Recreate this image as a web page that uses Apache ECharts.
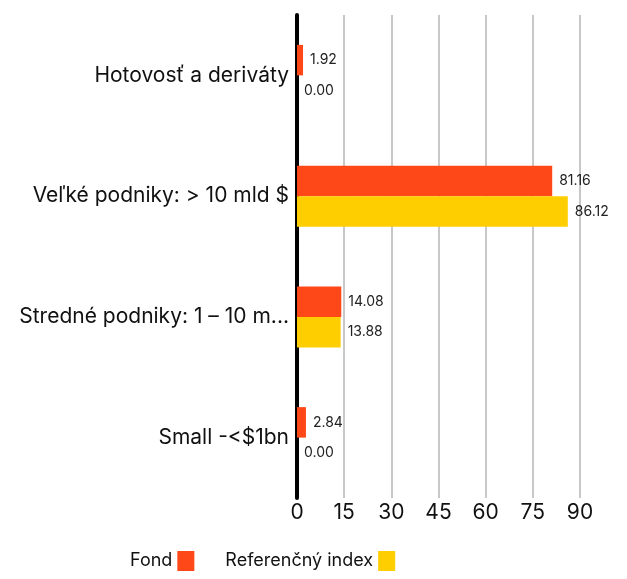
<!DOCTYPE html>
<html><head><meta charset="utf-8">
<script src="https://cdn.jsdelivr.net/npm/echarts@6/dist/echarts.min.js"></script>
<style>html,body{margin:0;padding:0;background:#fff}#c{width:627px;height:579px}</style>
</head><body><div id="c"></div>
<script>
const categories = ["Hotovosť a deriváty", "Veľké podniky: > 10 mld $", "Stredné podniky: 1 – 10 m...", "Small -<$1bn"];
const fondValues = [1.92, 81.16, 14.08, 2.84];
const indexValues = [0.00, 86.12, 13.88, 0.00];
const seriesNames = ["Fond", "Referenčný index"];
const FONT = "Inter";
const chart = echarts.init(document.getElementById('c'));
const lbl = {show:true, position:'right', distance:7, fontFamily:FONT, fontSize:14, color:'#222',
  formatter: p => p.value.toFixed(2)};
chart.setOption({
  animation:false,
  textStyle:{fontFamily:FONT},
  grid:{left:297, right:47, top:15, bottom:81, containLabel:false},
  legend:{left:125, top:546, align:'right', itemWidth:17, itemHeight:20, itemGap:31,
    icon:'rect', textStyle:{fontFamily:FONT, fontSize:18, color:'#111'},
    data: seriesNames},
  xAxis:{type:'value', min:0, max:90, interval:15,
    axisLine:{show:false}, axisTick:{show:false},
    axisLabel:{fontFamily:FONT, fontSize:21, color:'#111', margin:4},
    splitLine:{lineStyle:{color:'#c8c8c8', width:2}}},
  yAxis:{type:'category', data:categories, inverse:true,
    axisLine:{lineStyle:{color:'#000', width:4}}, axisTick:{show:false},
    axisLabel:{fontFamily:FONT, fontSize:21, color:'#111', margin:8}},
  series:[
    {name:seriesNames[0], type:'bar', data:fondValues, barWidth:30.5, barGap:'0%',
      itemStyle:{color:'#FF4817'}, label:lbl},
    {name:seriesNames[1], type:'bar', data:indexValues, barWidth:30.5, barGap:'0%',
      itemStyle:{color:'#FFCE00'}, label:lbl}
  ]
});
</script></body></html>
